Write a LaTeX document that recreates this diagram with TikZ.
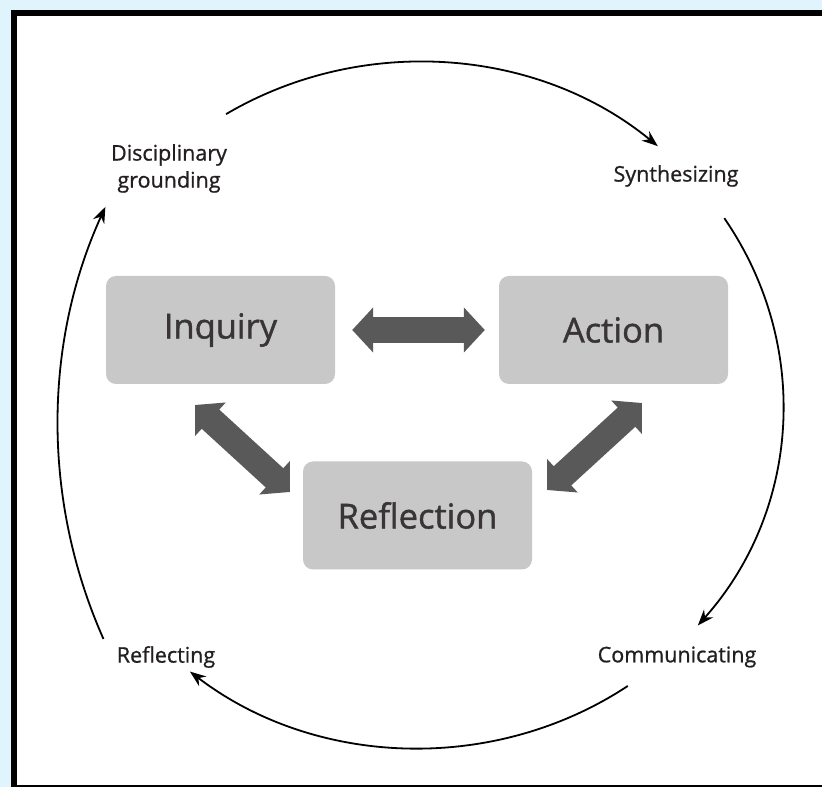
\documentclass[tikz,border=0pt]{standalone}
\usepackage{fontspec}
\setmainfont{Open Sans}[FakeBold=0.9]
\newfontfamily\boxfont{Open Sans}[FakeBold=1.2]
\usetikzlibrary{arrows.meta}
\definecolor{bgblue}{HTML}{DFF4FD}
\definecolor{boxgray}{HTML}{C8C8C8}
\definecolor{arrgray}{HTML}{595959}
\definecolor{txtdark}{HTML}{231F20}
\begin{document}
\begin{tikzpicture}[x=1pt,y=1pt,
  mainbox/.style={fill=boxgray, rounded corners=10pt, minimum width=229pt, minimum height=108pt, inner sep=0pt, font=\boxfont\fontsize{34.5}{40}\selectfont, text=txtdark!90},
  cyclelabel/.style={font=\fontsize{21.5}{27}\selectfont, text=txtdark, align=center, inner sep=0pt},
  bigarrow/.style={draw=arrgray, line width=26pt, {Triangle[length=21pt,width=44pt]}-{Triangle[length=21pt,width=44pt]}},
  cyclearrow/.style={draw=black, line width=1.8pt, -{Stealth[length=16pt,width=12pt]}}]
\useasboundingbox (0,0) rectangle (822,787);
\fill[bgblue] (0,0) rectangle (822,787);
\begin{scope}
\clip (0,0) rectangle (822,787);
\fill[white] (14,-10) rectangle (840,774);
\draw[black, line width=6pt] (14,-1) rectangle (840,774);
\end{scope}
% boxes
\node[mainbox] (inq) at (220.5,457) {Inquiry};
\node[mainbox] (act) at (613.5,457) {Action};
\node[mainbox] (ref) at (417.5,271.5) {Reflection};
% double arrows
\draw[bigarrow, shorten <=17pt, shorten >=14pt] (inq.east) -- (act.west);
\coordinate (la) at (195,382);
\coordinate (lb) at (290,295);
\coordinate (ra) at (642,384);
\coordinate (rb) at (547,297);
\draw[bigarrow] (la) -- (lb);
\draw[bigarrow] (ra) -- (rb);
% cycle labels
\node[cyclelabel] (dg) at (169,618.5) {Disciplinary\\grounding};
\node[cyclelabel] (syn) at (676,611) {Synthesizing};
\node[cyclelabel] (com) at (677,130) {Communicating};
\node[cyclelabel] (rfl) at (166,130) {Reflecting};
% cycle arcs
\coordinate (c) at (419,382);
\coordinate (cl) at (584,362);
\draw[cyclearrow] (c) ++(122:364 and 343) arc[start angle=122, end angle=49, x radius=364, y radius=343];
\draw[cyclearrow] (c) ++(33:364 and 343) arc[start angle=33, end angle=-40, x radius=364, y radius=343];
\draw[cyclearrow] (c) ++(-55:364 and 343) arc[start angle=-55, end angle=-129, x radius=364, y radius=343];
\draw[cyclearrow] (cl) ++(204:526) arc[start angle=204, end angle=155.5, radius=526];
\end{tikzpicture}
\end{document}
